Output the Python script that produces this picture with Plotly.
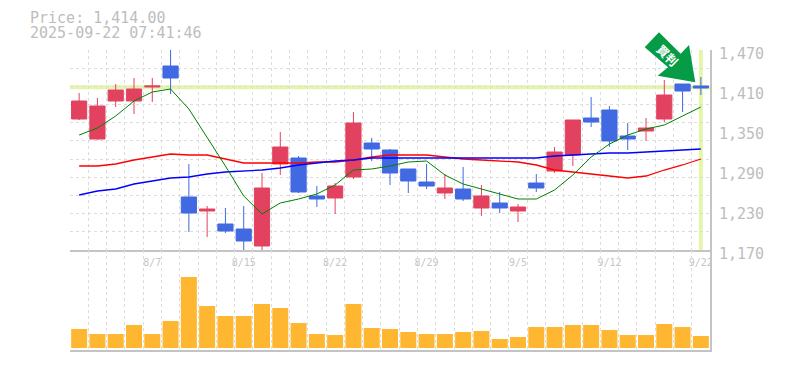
import plotly.graph_objects as go

dates = ["8/1","8/4","8/5","8/6","8/7","8/8","8/12","8/13","8/14","8/15","8/18","8/19","8/20","8/21","8/22",
         "8/25","8/26","8/27","8/28","8/29","9/1","9/2","9/3","9/4","9/5","9/8","9/9","9/10","9/11","9/12",
         "9/16","9/17","9/18","9/19","9/22"]
label_dates = ["8/7","8/15","8/22","8/29","9/5","9/12","9/22"]
price_ticks = [1170,1230,1290,1350,1410,1470]

opens  = [1366.5,1336.5,1393.5,1393.5,1414.5,1446,1249.5,1228.5,1209,1201.5,1176,1299,1308,1251,1248,1279.5,1330.5,1320,1291.5,1272,1255.5,1261.5,1233,1240.5,1228.5,1270.5,1288.5,1312.5,1368,1380,1341,1348.5,1366.5,1419,1416]
highs  = [1405.5,1398,1419,1428,1428,1470,1299,1236,1233,1236,1285.5,1347,1311,1266,1270.5,1377,1338,1321.5,1291.5,1299,1284,1294.5,1267.5,1257,1239,1284,1324.5,1365,1399.5,1386,1360.5,1368,1425,1419,1429.5]
lows   = [1365,1335,1384.5,1374,1392,1404,1197,1189.5,1195.5,1168.5,1170,1282.5,1255.5,1234.5,1224,1276.5,1303.5,1267.5,1255.5,1261.5,1246.5,1243.5,1221,1225.5,1212,1257,1285.5,1296,1354.5,1324.5,1320,1333.5,1362,1377,1402.5]
closes = [1393.5,1386,1410,1411.5,1416,1428,1225.5,1231.5,1198.5,1183.5,1263,1324.5,1257,1246.5,1266,1360.5,1321.5,1285.5,1273.5,1266,1263,1246.5,1251,1233,1234.5,1263,1317,1365,1362,1333.5,1336.5,1353,1402.5,1408.5,1413]

ma_short = [1342.5,1353,1371,1393.5,1407,1411.5,1381.5,1339.5,1296,1251,1224,1240.5,1246.5,1254,1267.5,1290,1291.5,1296,1302,1303.5,1282.5,1269,1261.5,1254,1246.5,1246.5,1260,1282.5,1309.5,1329,1342.5,1351.5,1357.5,1371,1384.5]
ma_mid   = [1296,1296,1299,1305,1309.5,1314,1312.5,1312.5,1306.5,1300.5,1300.5,1300.5,1300.5,1302,1302,1305,1309.5,1312.5,1312.5,1312.5,1309.5,1306.5,1305,1303.5,1302,1297.5,1290,1287,1284,1281,1278,1281,1290,1297.5,1306.5]
ma_long  = [1252.5,1258.5,1261.5,1269,1273.5,1278,1279.5,1284,1287,1288.5,1290,1293,1297.5,1300.5,1303.5,1305,1308,1308,1308,1308,1308,1308,1308,1308,1308,1308,1311,1312.5,1314,1315.5,1315.5,1317,1318.5,1320,1321.5]

volumes = [19,14,14,23,14,27,71,42,32,32,44,40,25,14,13,44,20,19,16,14,14,16,17,9,11,21,21,23,23,18,13,13,24,21,12]
last_price = 1414

x = list(range(len(dates)))
tick_x = [dates.index(d) for d in label_dates]
GRID = "#dcdcdc"; AXIS = "#c4c4c4"; TXT = "#bdbdbd"; TXT2 = "#c6c6c6"
UP = "#e2425f"; DOWN = "#4169e1"; HL = "#e3f6a9"
FONT = "DejaVu Sans Mono"

fig = go.Figure()
for vals, col in [(ma_mid, "#ff0000"), (ma_long, "#0000ff"), (ma_short, "#008000")]:
    fig.add_trace(go.Scatter(x=x, y=vals, mode="lines", line=dict(color=col, width=1.3 if col != "#008000" else 1),
                             hoverinfo="skip", xaxis="x", yaxis="y"))
fig.add_trace(go.Candlestick(x=x, open=opens, high=highs, low=lows, close=closes, whiskerwidth=0,
                             increasing=dict(line=dict(color=UP, width=1), fillcolor=UP),
                             decreasing=dict(line=dict(color=DOWN, width=1), fillcolor=DOWN),
                             xaxis="x", yaxis="y"))
fig.add_trace(go.Bar(x=x, y=volumes, width=0.875, marker=dict(color="#ffb732", line=dict(width=0)),
                     xaxis="x2", yaxis="y2"))

minor_x = dict(tick0=-0.5, dtick=1, showgrid=True, gridcolor=GRID, griddash="3px,3px", gridwidth=1, ticks="")
fig.update_layout(
    width=777, height=362, margin=dict(l=62, r=75, t=42, b=20, pad=0, autoexpand=False),
    paper_bgcolor="white", plot_bgcolor="white", showlegend=False, boxgap=0.17, boxgroupgap=0,
    font=dict(family=FONT, color=TXT),
    xaxis=dict(domain=[0, 1], range=[-0.5, 34.5], tickmode="array", tickvals=tick_x, ticktext=label_dates,
               ticks="", ticklen=0, showgrid=False, zeroline=False, minor=minor_x, rangeslider=dict(visible=False),
               showline=True, linecolor=AXIS, linewidth=2, anchor="y", ticklabeloverflow="allow",
               ticklabelstandoff=2, tickfont=dict(family=FONT, size=10, color=TXT2)),
    yaxis=dict(domain=[1/3, 1], range=[1170, 1470], side="right", tickmode="array", tickvals=price_ticks,
               ticktext=[f"{v:,}" for v in price_ticks], showgrid=False, zeroline=False, ticks="",
               minor=dict(tick0=1170, dtick=300/11, showgrid=True, gridcolor=GRID, griddash="3px,3px", gridwidth=1, ticks=""),
               showline=True, linecolor=AXIS, linewidth=2, anchor="x", ticklabelshift=4,
               ticklabelstandoff=4, tickfont=dict(family=FONT, size=15, color=TXT)),
    xaxis2=dict(domain=[0, 1], range=[-0.5, 34.5], showticklabels=False, ticks="", showgrid=False, zeroline=False,
                minor=minor_x, showline=True, linecolor=AXIS, linewidth=2, anchor="y2"),
    yaxis2=dict(domain=[0, 1/3], range=[-2, 98], side="right", showticklabels=False, ticks="", showgrid=False,
                zeroline=False, showline=True, linecolor=AXIS, linewidth=2, anchor="x2"),
    shapes=[
        dict(type="line", xref="paper", x0=0, x1=1, yref="y", y0=last_price, y1=last_price,
             line=dict(color=HL, width=4), layer="below"),
        dict(type="line", xref="x", x0=x[-1], x1=x[-1], yref="y domain", y0=0, y1=1,
             line=dict(color=HL, width=4), layer="below"),
        dict(type="path", xref="paper", yref="paper", layer="above", line=dict(width=0), fillcolor="#069b45",
             path="M 0.9203 1.0590 L 0.8980 1.0090 L 0.9344 0.9423 L 0.9183 0.9143 L 0.9770 0.8923 "
                  "L 0.9672 1.0167 L 0.9542 0.9877 Z"),
    ],
    annotations=[
        dict(text="Price: 1,414.00", xref="paper", yref="paper", x=-42/640, y=(350-18)/300, xanchor="left", yanchor="middle",
             showarrow=False, font=dict(family=FONT, size=15, color=TXT)),
        dict(text="2025-09-22 07:41:46", xref="paper", yref="paper", x=-42/640, y=(350-33)/300, xanchor="left", yanchor="middle",
             showarrow=False, font=dict(family=FONT, size=15, color=TXT)),
        dict(text="<b>買判</b>", xref="paper", yref="paper", x=(667.5-70)/640, y=(350-54.5)/300, textangle=45,
             xanchor="center", yanchor="middle", showarrow=False,
             font=dict(family="Noto Sans CJK JP", size=12, color="white")),
    ],
)
fig.write_html("out.html")
